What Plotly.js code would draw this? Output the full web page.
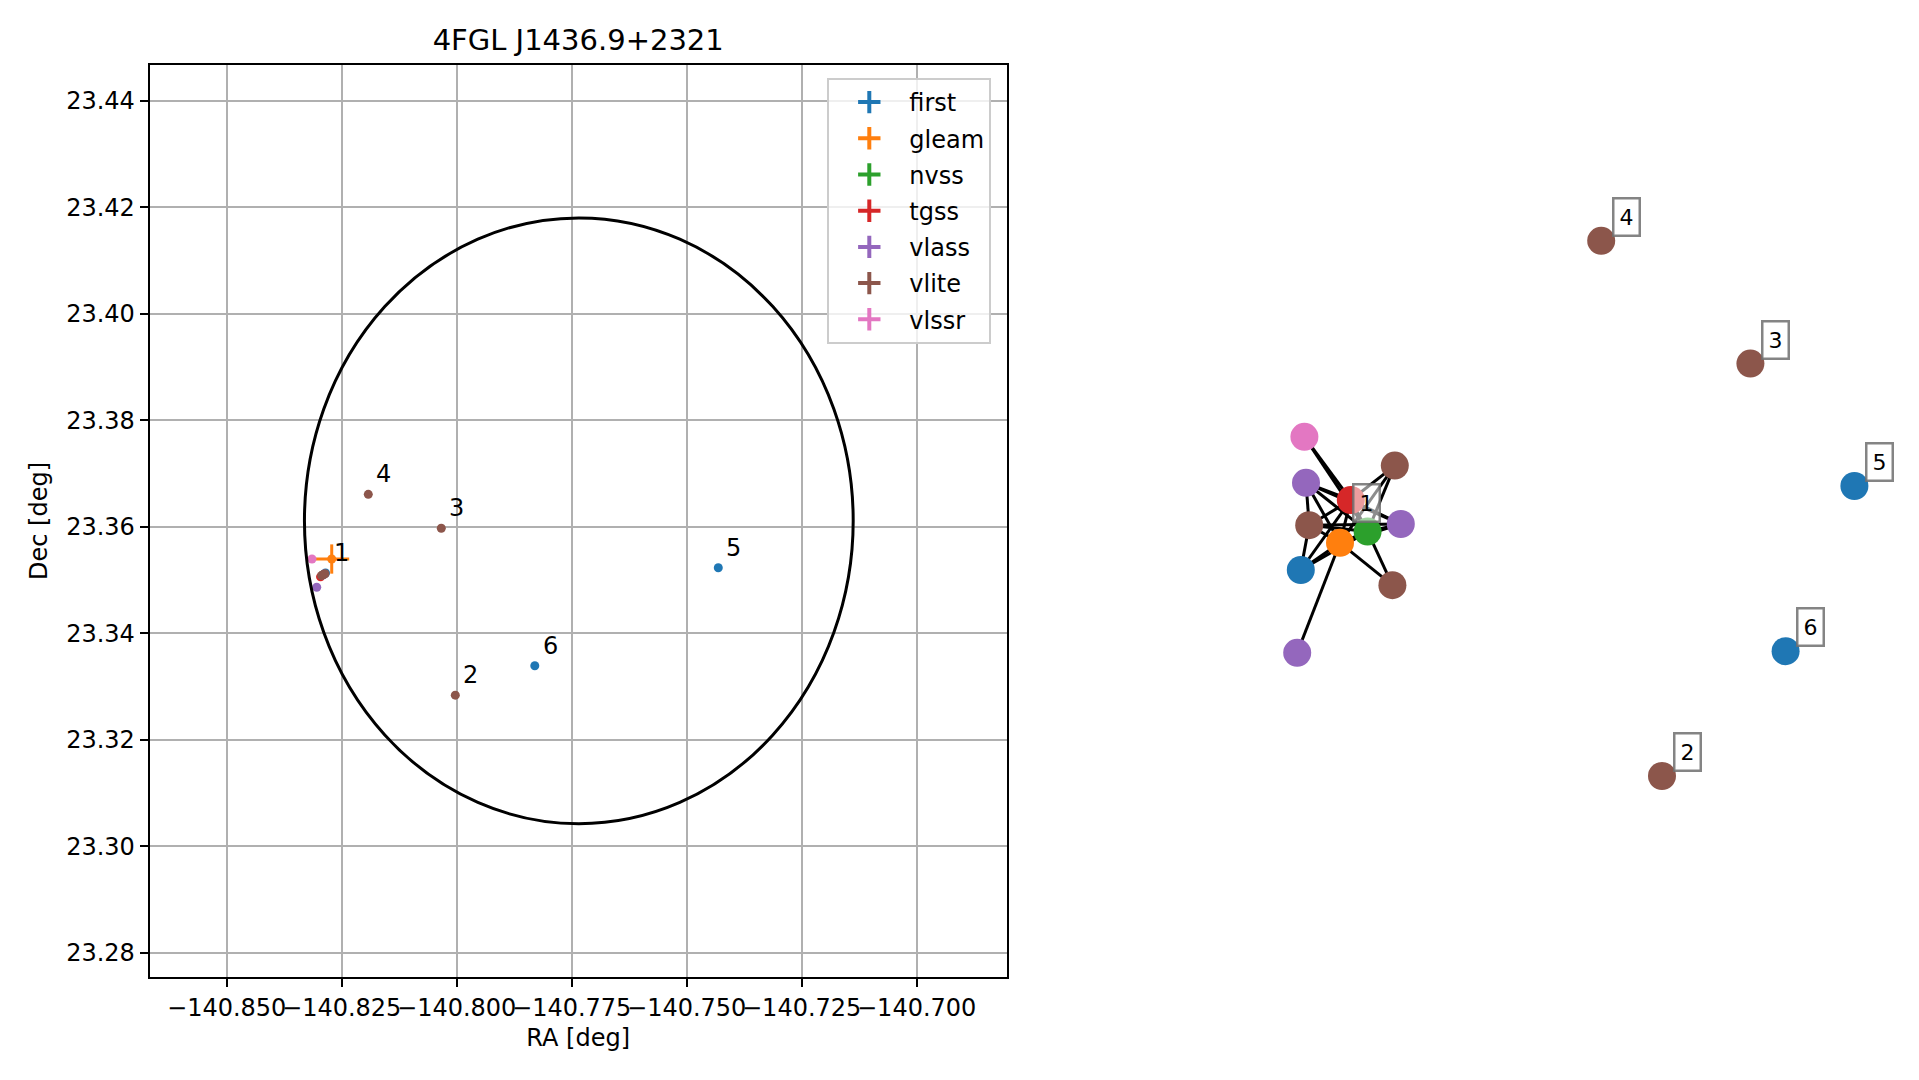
<!DOCTYPE html>
<html>
<head>
<meta charset="utf-8">
<script src="https://cdn.plot.ly/plotly-3.0.1.min.js"></script>
<style>html,body{margin:0;padding:0;background:#fff;}#chart{width:1919px;height:1080px;}</style>
</head>
<body>
<div id="chart"></div>
<script>
// ---------------- data (left panel: sky positions) ----------------
const surveys = ['first', 'gleam', 'nvss', 'tgss', 'vlass', 'vlite', 'vlssr'];
const surveyColors = ['#1f77b4', '#ff7f0e', '#2ca02c', '#d62728', '#9467bd', '#8c564b', '#e377c2'];

const firstRA  = [-140.82852, -140.74313, -140.78302];
const firstDec = [23.35131, 23.35230, 23.33388];
const firstErrRA  = [0.0002, 0.0002, 0.0002];
const firstErrDec = [0.0002, 0.0002, 0.0002];
const firstLabels = ['1', '5', '6'];

const gleamRA  = [-140.82717];
const gleamDec = [23.35393];
const gleamErrRA  = [0.0038];
const gleamErrDec = [0.00275];

const nvssRA  = [-140.82896];
const nvssDec = [23.35102];
const nvssErrRA  = [0.0004];
const nvssErrDec = [0.0004];

const tgssRA  = [-140.82960];
const tgssDec = [23.35058];
const tgssErrRA  = [0.0005];
const tgssErrDec = [0.0005];

const vlassRA  = [-140.83043, -140.82880, -140.82905];
const vlassDec = [23.34862, 23.35110, 23.35095];
const vlassErrRA  = [0.0001, 0.0001, 0.0001];
const vlassErrDec = [0.0001, 0.0001, 0.0001];

const vliteRA  = [-140.82935, -140.82896, -140.82863, -140.80030, -140.80335, -140.81922];
const vliteDec = [23.35084, 23.35102, 23.35116, 23.32836, 23.35970, 23.36608];
const vliteErrRA  = [0.0004, 0.0004, 0.0004, 0.0004, 0.0004, 0.0004];
const vliteErrDec = [0.0004, 0.0004, 0.0004, 0.0004, 0.0004, 0.0004];
const vliteLabels = ['', '', '', '2', '3', '4'];

const vlssrRA  = [-140.83146];
const vlssrDec = [23.35393];
const vlssrErrRA  = [0.0003];
const vlssrErrDec = [0.0003];

// Fermi error region (centre and semi-axes, deg)
const ellipseCenter = [-140.77345, 23.36111];
const ellipseSemiRA = 0.05965;
const ellipseSemiDec = 0.05688;

// tick labels
const raTicks = [-140.850, -140.825, -140.800, -140.775, -140.750, -140.725, -140.700];
const raTickText = ['\u2212140.850', '\u2212140.825', '\u2212140.800', '\u2212140.775', '\u2212140.750', '\u2212140.725', '\u2212140.700'];
const decTicks = [23.28, 23.30, 23.32, 23.34, 23.36, 23.38, 23.40, 23.42, 23.44];
const decTickText = ['23.28', '23.30', '23.32', '23.34', '23.36', '23.38', '23.40', '23.42', '23.44'];

// ---------------- data (right panel: match graph) ----------------
const netSurvey = ['first', 'first', 'first', 'gleam', 'nvss', 'tgss', 'vlass', 'vlass', 'vlass',
                   'vlite', 'vlite', 'vlite', 'vlite', 'vlite', 'vlite', 'vlssr'];
const netX = [-0.373, 1.011, 0.839, -0.275, -0.206, -0.248, -0.360, -0.123, -0.382,
              -0.138, -0.352, -0.144, 0.530, 0.751, 0.378, -0.364];
const netY = [-0.075, 0.135, -0.278, -0.007, 0.021, 0.100, 0.143, 0.040, -0.282,
              0.186, 0.037, -0.113, -0.590, 0.441, 0.748, 0.258];
const netEdges = [[15,5],[15,4],[6,5],[6,4],[6,3],[6,7],[6,10],[9,5],[9,4],[9,3],
                  [10,7],[10,4],[10,3],[10,5],[10,0],[0,3],[0,4],[0,5],[11,3],[11,4],
                  [8,3],[5,4],[5,3],[4,3],[7,4],[7,3],[7,5]];
const netLabelText = ['1', '2', '3', '4', '5', '6'];
const netLabelX = [-0.2725, 0.530, 0.751, 0.378, 1.011, 0.839];
const netLabelY = [0.0325, -0.590, 0.441, 0.748, 0.135, -0.278];

// ---------------- build ----------------
const FONT = 'DejaVu Sans, Liberation Sans, sans-serif';
const bySurvey = {
  first: [firstRA, firstDec, firstErrRA, firstErrDec],
  gleam: [gleamRA, gleamDec, gleamErrRA, gleamErrDec],
  nvss:  [nvssRA, nvssDec, nvssErrRA, nvssErrDec],
  tgss:  [tgssRA, tgssDec, tgssErrRA, tgssErrDec],
  vlass: [vlassRA, vlassDec, vlassErrRA, vlassErrDec],
  vlite: [vliteRA, vliteDec, vliteErrRA, vliteErrDec],
  vlssr: [vlssrRA, vlssrDec, vlssrErrRA, vlssrErrDec]
};

const traces = [];
surveys.forEach((s, i) => {
  const d = bySurvey[s];
  traces.push({
    type: 'scatter', mode: 'markers', name: s, legendgroup: s, showlegend: false,
    x: d[0], y: d[1], xaxis: 'x', yaxis: 'y',
    marker: {color: surveyColors[i], size: 9, line: {width: 0}},
    error_x: {type: 'data', array: d[2], visible: true, color: surveyColors[i], thickness: 3, width: 0},
    error_y: {type: 'data', array: d[3], visible: true, color: surveyColors[i], thickness: 3, width: 0},
    hoverinfo: 'x+y+name'
  });
});
// legend entries (errorbar-style cross)
surveys.forEach((s, i) => {
  traces.push({
    type: 'scatter', mode: 'markers', name: s, legendgroup: s, showlegend: true,
    x: [null], y: [null], xaxis: 'x', yaxis: 'y',
    marker: {symbol: 'cross-thin', size: 24, color: surveyColors[i], line: {width: 4, color: surveyColors[i]}}
  });
});

// graph edges
const ex = [], ey = [];
netEdges.forEach(e => {
  ex.push(netX[e[0]], netX[e[1]], null);
  ey.push(netY[e[0]], netY[e[1]], null);
});
traces.push({
  type: 'scatter', mode: 'lines', x: ex, y: ey, xaxis: 'x2', yaxis: 'y2',
  line: {color: '#000', width: 3}, showlegend: false, hoverinfo: 'skip'
});
traces.push({
  type: 'scatter', mode: 'markers', x: netX, y: netY, xaxis: 'x2', yaxis: 'y2',
  text: netSurvey, hoverinfo: 'text', showlegend: false,
  marker: {size: 28, color: netSurvey.map(s => surveyColors[surveys.indexOf(s)]), line: {width: 0}}
});

// annotations
const annotations = [];
const addLeft = (xs, ys, labels) => labels.forEach((t, k) => {
  if (!t) return;
  annotations.push({
    xref: 'x', yref: 'y', x: xs[k], y: ys[k], text: t, showarrow: false,
    xanchor: 'left', yanchor: 'bottom', xshift: 6, yshift: 4,
    font: {family: FONT, size: 24, color: '#000'}
  });
});
addLeft(firstRA, firstDec, firstLabels);
addLeft(vliteRA, vliteDec, vliteLabels);

netLabelText.forEach((t, k) => {
  annotations.push({
    xref: 'x2', yref: 'y2', x: netLabelX[k], y: netLabelY[k], text: t, showarrow: false,
    xanchor: 'center', yanchor: 'middle', xshift: 25, yshift: 24,
    font: {family: FONT, size: 22, color: '#000'},
    bgcolor: 'rgba(255,255,255,0.55)', bordercolor: 'rgba(110,110,110,0.85)',
    borderwidth: 2.5, borderpad: 5
  });
});

const W = 1919, H = 1080;
const axLeft = 149.7, axRight = 1006.7, axTop = 64.7, axBottom = 977.3;

const layout = {
  width: W, height: H,
  margin: {l: 0, r: 0, t: 0, b: 0, pad: 0},
  paper_bgcolor: '#fff', plot_bgcolor: '#fff',
  font: {family: FONT, size: 24, color: '#000'},
  title: {
    text: '4FGL J1436.9+2321', font: {family: FONT, size: 29, color: '#000'},
    xref: 'paper', x: ((axLeft + axRight) / 2) / W, xanchor: 'center',
    yref: 'container', y: 1 - 40 / H, yanchor: 'middle'
  },
  showlegend: true,
  legend: {
    x: 827.3 / W, y: 1 - 78 / H, xanchor: 'left', yanchor: 'top',
    xref: 'paper', yref: 'paper',
    bgcolor: 'rgba(255,255,255,0.8)', bordercolor: '#cccccc', borderwidth: 2,
    font: {family: FONT, size: 24, color: '#000'},
    itemwidth: 70, tracegroupgap: 2
  },
  xaxis: {
    domain: [axLeft / W, axRight / W], anchor: 'y',
    range: [-140.86674, -140.68043], autorange: false,
    tickmode: 'array', tickvals: raTicks, ticktext: raTickText, tickangle: 0,
    ticks: 'outside', ticklen: 8, tickwidth: 2, tickcolor: '#000',
    showline: true, mirror: true, linecolor: '#000', linewidth: 2,
    showgrid: true, gridcolor: '#b0b0b0', gridwidth: 2, zeroline: false,
    tickfont: {family: FONT, size: 24, color: '#000'},
    title: {text: 'RA [deg]', font: {family: FONT, size: 24, color: '#000'}, standoff: 8},
    automargin: false
  },
  yaxis: {
    domain: [1 - axBottom / H, 1 - axTop / H], anchor: 'x',
    range: [23.27538, 23.44676], autorange: false,
    tickmode: 'array', tickvals: decTicks, ticktext: decTickText,
    ticks: 'outside', ticklen: 8, tickwidth: 2, tickcolor: '#000',
    showline: true, mirror: true, linecolor: '#000', linewidth: 2,
    showgrid: true, gridcolor: '#b0b0b0', gridwidth: 2, zeroline: false,
    tickfont: {family: FONT, size: 24, color: '#000'},
    title: {text: 'Dec [deg]', font: {family: FONT, size: 24, color: '#000'}, standoff: 12},
    automargin: false
  },
  xaxis2: {domain: [1050 / W, 1], anchor: 'y2', range: [-1.0, 1.1725], visible: false, fixedrange: true},
  yaxis2: {domain: [0, 1], anchor: 'x2', range: [-1.35, 1.35], visible: false, fixedrange: true},
  shapes: [{
    type: 'circle', xref: 'x', yref: 'y',
    x0: ellipseCenter[0] - ellipseSemiRA, x1: ellipseCenter[0] + ellipseSemiRA,
    y0: ellipseCenter[1] - ellipseSemiDec, y1: ellipseCenter[1] + ellipseSemiDec,
    line: {color: '#000', width: 3}, fillcolor: 'rgba(0,0,0,0)', layer: 'above'
  }],
  annotations: annotations
};

Plotly.newPlot('chart', traces, layout, {displayModeBar: false, responsive: false});
</script>
</body>
</html>
